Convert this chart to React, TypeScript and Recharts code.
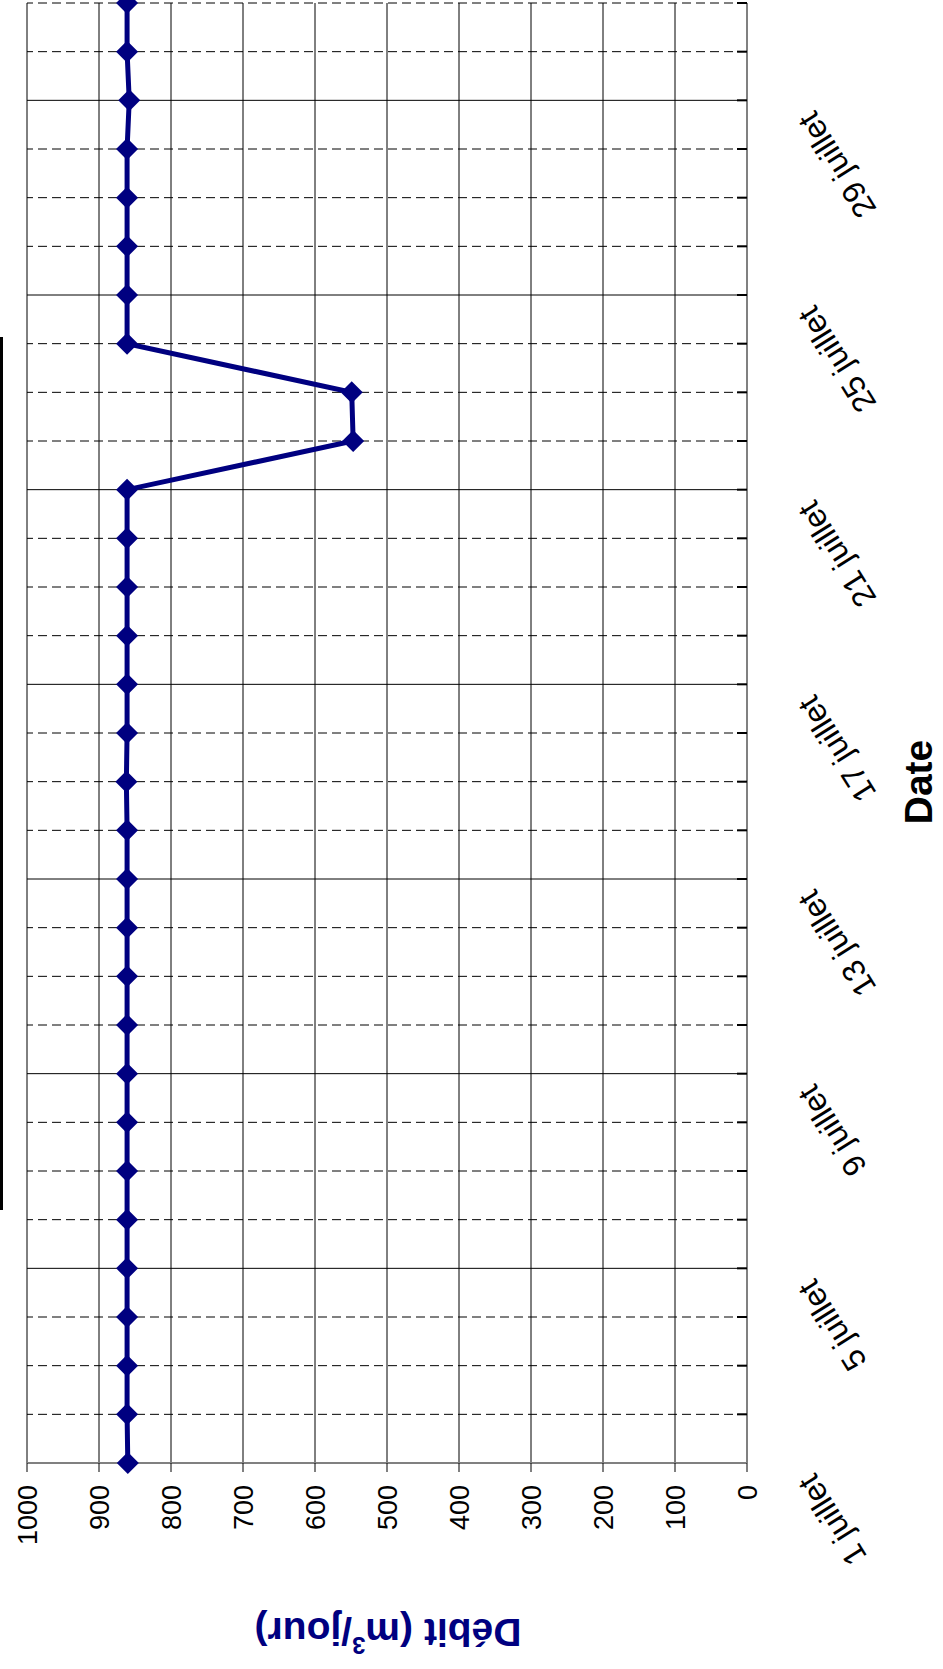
import { LineChart, Line, XAxis, YAxis, CartesianGrid, ReferenceLine } from 'recharts'

// the whole chart is drawn upright and then turned a quarter turn to the left,
// the way the scanned page shows it
const PAGE_W = 943
const PAGE_H = 1669

const days = [1, 2, 3, 4, 5, 6, 7, 8, 9, 10, 11, 12, 13, 14, 15, 16, 17, 18, 19, 20, 21, 22, 23, 24, 25, 26, 27, 28, 29, 30, 31]
const debit = [860, 861, 861, 861, 861, 861, 861, 861, 861, 861, 861, 861, 861, 861, 862, 861, 861, 861, 861, 861, 861, 547, 549, 861, 861, 861, 861, 861, 858, 861, 861]
const labelDays = [1, 5, 9, 13, 17, 21, 25, 29]
const valueTicks = [0, 100, 200, 300, 400, 500, 600, 700, 800, 900, 1000]
const monthName = 'juillet'

const data = days.map((d, i) => ({ day: d, debit: debit[i] }))

const FONT = '"Liberation Sans", Arimo, Arial, sans-serif'
const NAVY = '#000080'

const Diamond = ({ cx, cy }: any) => {
  if (cx == null || cy == null) return null
  const r = 11
  return <path d={`M${cx},${cy - r}L${cx + r},${cy}L${cx},${cy + r}L${cx - r},${cy}Z`} fill={NAVY} />
}

const DateTick = ({ x, y, payload }: any) => {
  if (!labelDays.includes(payload.value)) return null
  const ax = x - 9
  const ay = y + 78
  return (
    <text
      x={ax}
      y={ay}
      transform={`rotate(-32 ${ax} ${ay})`}
      textAnchor="end"
      fontSize={32}
      fontFamily={FONT}
      fill="#000"
    >
      {`${payload.value} ${monthName}`}
    </text>
  )
}

export default function App() {
  return (
    <div style={{ position: 'absolute', left: 0, top: 0, width: PAGE_W, height: PAGE_H, overflow: 'hidden', background: '#fff' }}>
      <div
        style={{
          position: 'absolute',
          left: 0,
          top: 0,
          width: PAGE_H,
          height: PAGE_W,
          transformOrigin: '0 0',
          transform: `translate(0px, ${PAGE_H}px) rotate(-90deg)`,
        }}
      >
        <LineChart width={PAGE_H} height={PAGE_W} data={data} margin={{ top: 27, right: 3, left: 0, bottom: 0 }}>
          <CartesianGrid vertical={false} stroke="#000" strokeWidth={1} />
          {days.map((d) => (
            <ReferenceLine
              key={d}
              x={d}
              stroke="#000"
              strokeWidth={1}
              strokeDasharray={labelDays.includes(d) ? undefined : '9 5'}
            />
          ))}
          <XAxis
            dataKey="day"
            type="number"
            domain={[1, 31]}
            ticks={days}
            interval={0}
            height={196}
            tickSize={-10}
            tickMargin={0}
            axisLine={{ stroke: '#808080', strokeWidth: 2 }}
            tickLine={{ stroke: '#000', strokeWidth: 2 }}
            tick={<DateTick />}
          />
          <YAxis
            type="number"
            domain={[0, 1000]}
            ticks={valueTicks}
            interval={0}
            width={206}
            tickSize={9}
            tickMargin={13}
            axisLine={{ stroke: '#808080', strokeWidth: 2 }}
            tickLine={{ stroke: '#000' }}
            tick={{ fontSize: 27, fill: '#000', fontFamily: FONT }}
          />
          <Line
            type="linear"
            dataKey="debit"
            stroke={NAVY}
            strokeWidth={5}
            dot={<Diamond />}
            activeDot={false}
            isAnimationActive={false}
          />
        </LineChart>
        <svg
          width={PAGE_H}
          height={PAGE_W}
          style={{ position: 'absolute', left: 0, top: 0, pointerEvents: 'none' }}
        >
          <line x1={459} y1={1.5} x2={1332} y2={1.5} stroke="#000" strokeWidth={3} />
          <text
            x={37}
            y={388}
            transform="rotate(-90 37 388)"
            textAnchor="middle"
            dominantBaseline="central"
            fontSize={39}
            fontWeight="bold"
            fontFamily={FONT}
            fill={NAVY}
          >
            Débit (m<tspan dy={-14} fontSize={24}>3</tspan>
            <tspan dy={14}>/jour)</tspan>
          </text>
          <text
            x={887}
            y={918}
            textAnchor="middle"
            dominantBaseline="central"
            fontSize={39}
            fontWeight="bold"
            fontFamily={FONT}
            fill="#000"
          >
            Date
          </text>
        </svg>
      </div>
    </div>
  )
}
